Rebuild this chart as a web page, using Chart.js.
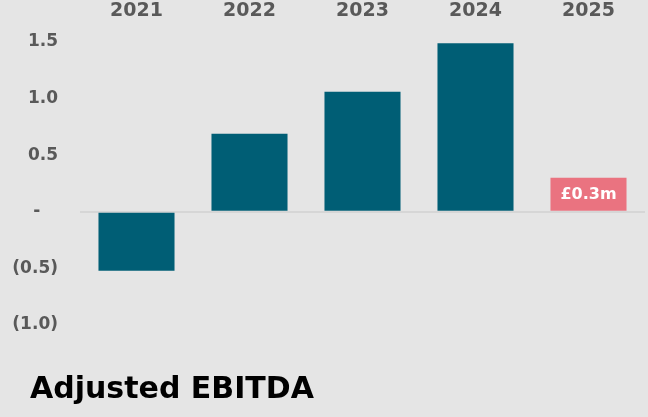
<!DOCTYPE html>
<html>
<head>
<meta charset="utf-8">
<title>Adjusted EBITDA</title>
<script src="https://cdn.jsdelivr.net/npm/chart.js@4/dist/chart.umd.min.js"></script>
<style>
    html, body { margin: 0; padding: 0; background: #e5e5e5; }
    .wrap { position: relative; width: 648px; height: 417px; }
    canvas { display: block; }
    .caption {
        position: absolute;
        left: 30px;
        top: 370px;
        margin: 0;
        font: bold 30px/36px "DejaVu Sans", sans-serif;
        color: #000000;
        white-space: nowrap;
    }
</style>
</head>
<body>
<div class="wrap">
    <canvas id="ebitda" width="648" height="417"></canvas>
    <h2 class="caption">Adjusted EBITDA</h2>
</div>
<script>
const categories = ['2021', '2022', '2023', '2024', '2025'];
const ebitda = [-0.52, 0.69, 1.06, 1.49, 0.3];
const barColours = ['#005e75', '#005e75', '#005e75', '#005e75', '#ea7380'];
const barLabels = ['', '', '', '', '£0.3m'];
const yTicks = [-1.0, -0.5, 0, 0.5, 1.0, 1.5];

const fontFamily = '"DejaVu Sans", sans-serif';
const textGrey = '#595959';

// accounting style: brackets for negatives, a dash for zero
function formatTick(v) {
    if (Math.abs(v) < 1e-9) return '-   ';
    if (v < 0) return '(' + Math.abs(v).toFixed(1) + ')';
    return v.toFixed(1);
}

// white value text inside bars that have a label
const barLabelPlugin = {
    id: 'barLabels',
    afterDatasetsDraw(chart) {
        const ctx = chart.ctx;
        const meta = chart.getDatasetMeta(0);
        ctx.save();
        ctx.fillStyle = '#ffffff';
        ctx.font = 'bold 16px ' + fontFamily;
        ctx.textAlign = 'center';
        ctx.textBaseline = 'middle';
        meta.data.forEach((bar, i) => {
            if (!barLabels[i]) return;
            ctx.fillText(barLabels[i], bar.x, (bar.y + bar.base) / 2 + 1);
        });
        ctx.restore();
    }
};

new Chart(document.getElementById('ebitda'), {
    type: 'bar',
    data: {
        labels: categories,
        datasets: [{
            data: ebitda,
            backgroundColor: barColours,
            borderWidth: 0,
            categoryPercentage: 1,
            barPercentage: 0.673
        }]
    },
    options: {
        responsive: false,
        animation: false,
        layout: { padding: { left: 0, right: 3, top: 0, bottom: 92 } },
        plugins: {
            legend: { display: false },
            tooltip: { enabled: false },
            title: { display: false }
        },
        scales: {
            x: {
                position: 'top',
                grid: { display: false, drawTicks: false },
                border: { display: false },
                ticks: {
                    color: textGrey,
                    font: { family: fontFamily, size: 19, weight: 'bold' },
                    padding: 20
                },
                afterFit(scale) { scale.height = 42; }
            },
            y: {
                min: -1.0,
                max: 1.5,
                afterBuildTicks(scale) {
                    scale.ticks = yTicks.map(v => ({ value: v }));
                },
                grid: {
                    drawTicks: false,
                    lineWidth: 2,
                    color: c => (c.tick && c.tick.value === 0 ? '#d6d6d6' : 'rgba(0,0,0,0)')
                },
                border: { display: false },
                ticks: {
                    color: textGrey,
                    font: { family: fontFamily, size: 17, weight: 'bold' },
                    padding: 22,
                    callback: v => formatTick(v)
                },
                afterFit(scale) { scale.width = 80; }
            }
        }
    },
    plugins: [barLabelPlugin]
});
</script>
</body>
</html>
